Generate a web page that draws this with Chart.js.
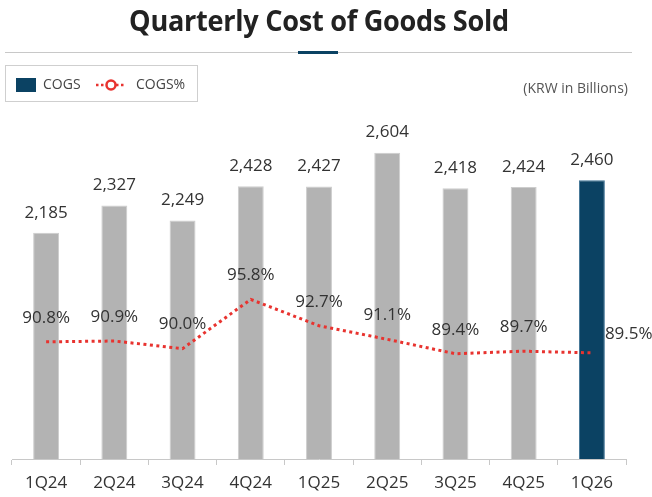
<!DOCTYPE html>
<html>
<head>
<meta charset="utf-8">
<script src="https://cdn.jsdelivr.net/npm/chart.js@4.4.0/dist/chart.umd.min.js"></script>
<style>
    body { margin: 0; background: #fff; font-family: "Open Sans", sans-serif; }
    #wrap { position: relative; width: 652px; height: 497px; overflow: hidden; }
    #title { position: absolute; left: -7px; width: 652px; top: 0px; text-align: center;
        font-size: 29px; font-weight: 700; color: #222; transform: scaleX(0.935); letter-spacing: -0.3px; }
    #rule { position: absolute; left: 5px; width: 627px; top: 52px; height: 1px; background: #c8c8c8; }
    #rule-mark { position: absolute; left: 298px; width: 40px; top: 51px; height: 3px; background: #0b4263; }
    #legend { position: absolute; left: 5px; top: 65px; width: 193px; height: 37px;
        border: 1px solid #cfcfcf; box-sizing: border-box; font-size: 14px; color: #444; }
    #legend .sq { position: absolute; left: 10px; top: 12px; width: 20px; height: 14px; background: #0b4263; }
    #legend .t1 { position: absolute; left: 37px; top: 8px; }
    #legend .t2 { position: absolute; left: 130px; top: 8px; }
    #legend svg { position: absolute; left: 89px; top: 10px; }
    #unit { position: absolute; right: 24px; top: 78px; font-size: 14px; color: #555; }
    canvas { position: absolute; left: 0; top: 0; }
</style>
</head>
<body>
<div id="wrap">
    <canvas id="c" width="652" height="497"></canvas>
    <div id="title">Quarterly Cost of Goods Sold</div>
    <div id="rule"></div>
    <div id="rule-mark"></div>
    <div id="legend">
        <div class="sq"></div><span class="t1">COGS</span>
        <svg width="32" height="18">
            <line x1="1" y1="9" x2="31" y2="9" stroke="#e8332f" stroke-width="2.5" stroke-dasharray="2.5,2.5"></line>
            <circle cx="16" cy="9" r="4.5" fill="#fff" stroke="#e8332f" stroke-width="2.5"></circle>
        </svg>
        <span class="t2">COGS%</span>
    </div>
    <div id="unit">(KRW in Billions)</div>
</div>
<script>
    const quarters = ["1Q24", "2Q24", "3Q24", "4Q24", "1Q25", "2Q25", "3Q25", "4Q25", "1Q26"];
    const cogs = [2185, 2327, 2249, 2428, 2427, 2604, 2418, 2424, 2460];
    const cogsPct = [90.8, 90.9, 90.0, 95.8, 92.7, 91.1, 89.4, 89.7, 89.5];

    const barColors = cogs.map(function (v, i) { return i === cogs.length - 1 ? "#0b4263" : "#b3b3b3"; });
    const barBorders = cogs.map(function (v, i) { return i === cogs.length - 1 ? "#3f7396" : "#cdcdcd"; });

    const labelPlugin = {
        id: "valueLabels",
        afterDatasetsDraw: function (chart) {
            const ctx = chart.ctx;
            ctx.save();
            ctx.fillStyle = "#333";
            ctx.font = "17px 'Open Sans'";
            ctx.textBaseline = "middle";
            const bars = chart.getDatasetMeta(1).data;
            bars.forEach(function (b, i) {
                ctx.textAlign = "center";
                ctx.fillText(cogs[i].toLocaleString("en-US"), b.x, b.y - 20);
            });
            const pts = chart.getDatasetMeta(0).data;
            pts.forEach(function (p, i) {
                const txt = cogsPct[i].toFixed(1) + "%";
                if (i === pts.length - 1) {
                    ctx.textAlign = "left";
                    ctx.fillText(txt, p.x + 13, p.y - 19);
                } else {
                    ctx.textAlign = "center";
                    ctx.fillText(txt, p.x, p.y - 24);
                }
            });
            ctx.restore();
        }
    };

    new Chart(document.getElementById("c"), {
        data: {
            labels: quarters,
            datasets: [{
                type: "line",
                label: "COGS%",
                data: cogsPct,
                yAxisID: "y1",
                borderColor: "#e8332f",
                borderWidth: 3,
                borderDash: [3, 3.5],
                pointRadius: 0,
                tension: 0,
                order: 0
            }, {
                type: "bar",
                label: "COGS",
                data: cogs,
                yAxisID: "y",
                backgroundColor: barColors,
                borderColor: barBorders,
                borderWidth: 1,
                categoryPercentage: 1,
                barPercentage: 0.38,
                order: 1
            }]
        },
        options: {
            responsive: false,
            animation: false,
            layout: { padding: { left: 12, right: 26, top: 77, bottom: 2 } },
            plugins: { legend: { display: false }, tooltip: { enabled: false } },
            scales: {
                x: {
                    grid: { drawOnChartArea: false, drawTicks: true, tickLength: 6, color: "#c8c8c8" },
                    border: { color: "#c8c8c8" },
                    ticks: { color: "#333", font: { family: "Open Sans", size: 17 }, padding: 8 },
                    afterFit: function (axis) { axis.height = 36; }
                },
                y: { display: false, min: 1000, max: 3000 },
                y1: { display: false, min: 77, max: 122 }
            }
        },
        plugins: [labelPlugin]
    });
</script>
</body>
</html>
